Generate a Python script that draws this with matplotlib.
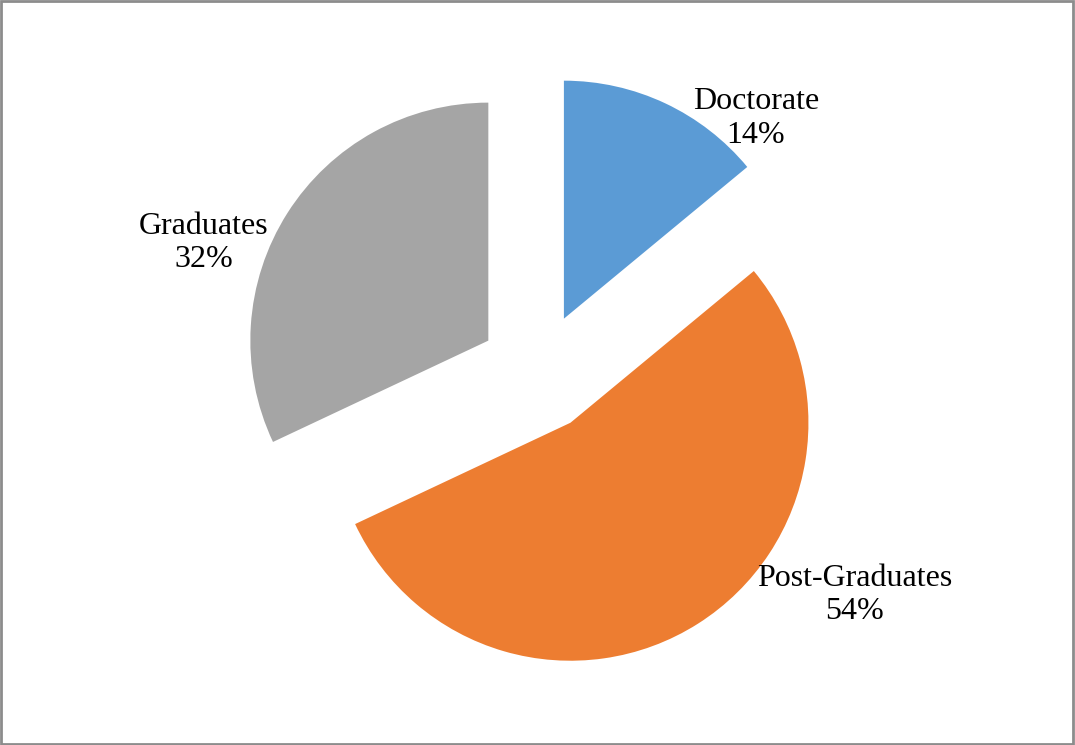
import numpy as np
import matplotlib.pyplot as plt
from matplotlib.patches import Rectangle

categories = ['Doctorate', 'Post-Graduates', 'Graduates']
shares = [14, 54, 32]
colors = ['#5B9BD5', '#ED7D31', '#A5A5A5']

# label placement as (x, y) offsets from the pie centre, in radius units
label_offsets = [(0.913, 1.069), (1.329, -0.935), (-1.406, 0.544)]

fig = plt.figure(figsize=(10.75, 7.45), dpi=100)
ax = fig.add_axes([0, 0, 1, 1])

ax.pie(shares, colors=colors, startangle=90, counterclock=False,
       explode=[0.25] * len(shares), radius=1.0,
       wedgeprops=dict(linewidth=0))

for name, val, (dx, dy) in zip(categories, shares, label_offsets):
    ax.text(dx, dy, f'{name}\n{val}%', ha='center', va='center',
            fontsize=23, family='Liberation Serif', linespacing=1.22)

ax.set_xlim(-2.263, 2.254)
ax.set_ylim(-1.565, 1.565)
ax.set_aspect('equal')
ax.axis('off')

# chart-area frame
fig.patches.append(Rectangle((0.001, 0.002), 0.997, 0.996, transform=fig.transFigure,
                             fill=False, edgecolor='#8c8c8c', linewidth=2))

fig.savefig('out.png', dpi=100, facecolor='white')
